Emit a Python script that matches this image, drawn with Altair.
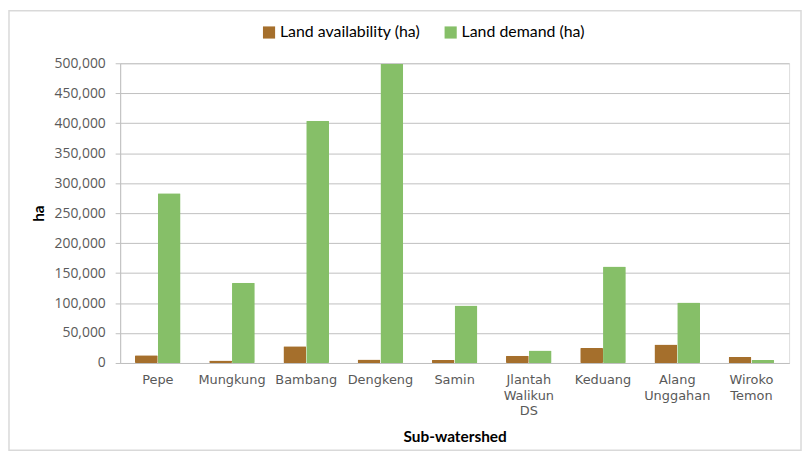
import altair as alt
import pandas as pd

categories = ["Pepe", "Mungkung", "Bambang", "Dengkeng", "Samin",
              "Jlantah Walikun DS", "Keduang", "Alang Unggahan", "Wiroko Temon"]
availability = [13000, 4000, 28000, 6000, 5000, 12000, 25000, 31000, 10000]
demand = [283000, 134000, 404000, 499000, 96000, 21000, 161000, 101000, 5000]
series = ["Land availability (ha)", "Land demand (ha)"]
colors = ["#A56F2C", "#86BF68"]

rows = []
for c, a, d in zip(categories, availability, demand):
    rows.append({"cat": c, "series": series[0], "value": a})
    rows.append({"cat": c, "series": series[1], "value": d})
df = pd.DataFrame(rows)

FONT = "Lato"

frame = alt.Chart(pd.DataFrame({"a": [0]})).mark_rect(
    fillOpacity=0, stroke="#D9D9D9", strokeWidth=1.5, clip=False
).encode(
    x=alt.value(-112), x2=alt.value(686),
    y=alt.value(-53), y2=alt.value(390),
)

bars = alt.Chart(df).mark_bar(cornerRadius=1).encode(
    x=alt.X("cat:N", sort=categories,
            scale=alt.Scale(paddingInner=0.385, paddingOuter=0.2),
            axis=alt.Axis(title="Sub-watershed", labelAngle=0,
                          labelExpr="split(datum.label, ' ')",
                          labelFontSize=13, labelColor="#595959",
                          labelFont="DejaVu Sans", labelPadding=11,
                          labelLineHeight=15.5,
                          ticks=False, domainColor="#BFBFBF",
                          titleFont=FONT, titleFontSize=15.5, titleColor="#000000",
                          titleFontWeight="bold", titlePadding=12)),
    xOffset=alt.XOffset("series:N", sort=series,
                        scale=alt.Scale(paddingInner=0, paddingOuter=0)),
    y=alt.Y("value:Q", scale=alt.Scale(domain=[0, 500000], nice=False),
            axis=alt.Axis(title="ha", format=",.0f",
                          values=list(range(0, 500001, 50000)),
                          labelFont="Open Sans", labelFontSize=14, labelColor="#595959",
                          labelPadding=10, tickSize=5, tickColor="#BFBFBF",
                          domainColor="#BFBFBF", gridColor="#BFBFBF",
                          titleFont=FONT, titleFontSize=15.5, titleColor="#000000",
                          titleFontWeight="bold", titlePadding=8)),
    color=alt.Color("series:N", sort=series,
                    scale=alt.Scale(domain=series, range=colors),
                    legend=alt.Legend(title=None, orient="none",
                                      legendX=142, legendY=-39,
                                      direction="horizontal",
                                      symbolType="square", symbolSize=150,
                                      symbolStrokeWidth=0,
                                      labelFont=FONT, labelFontSize=16,
                                      labelColor="#000000", columnPadding=22,
                                      labelOffset=3)),
)

chart = alt.layer(frame, bars).properties(
    width=674, height=302,
    padding={"left": 0, "top": 0, "right": 0, "bottom": 0},
).configure_view(stroke=None).configure(background="white")

chart.save("out.html", embed_options={"renderer": "svg", "actions": False})
